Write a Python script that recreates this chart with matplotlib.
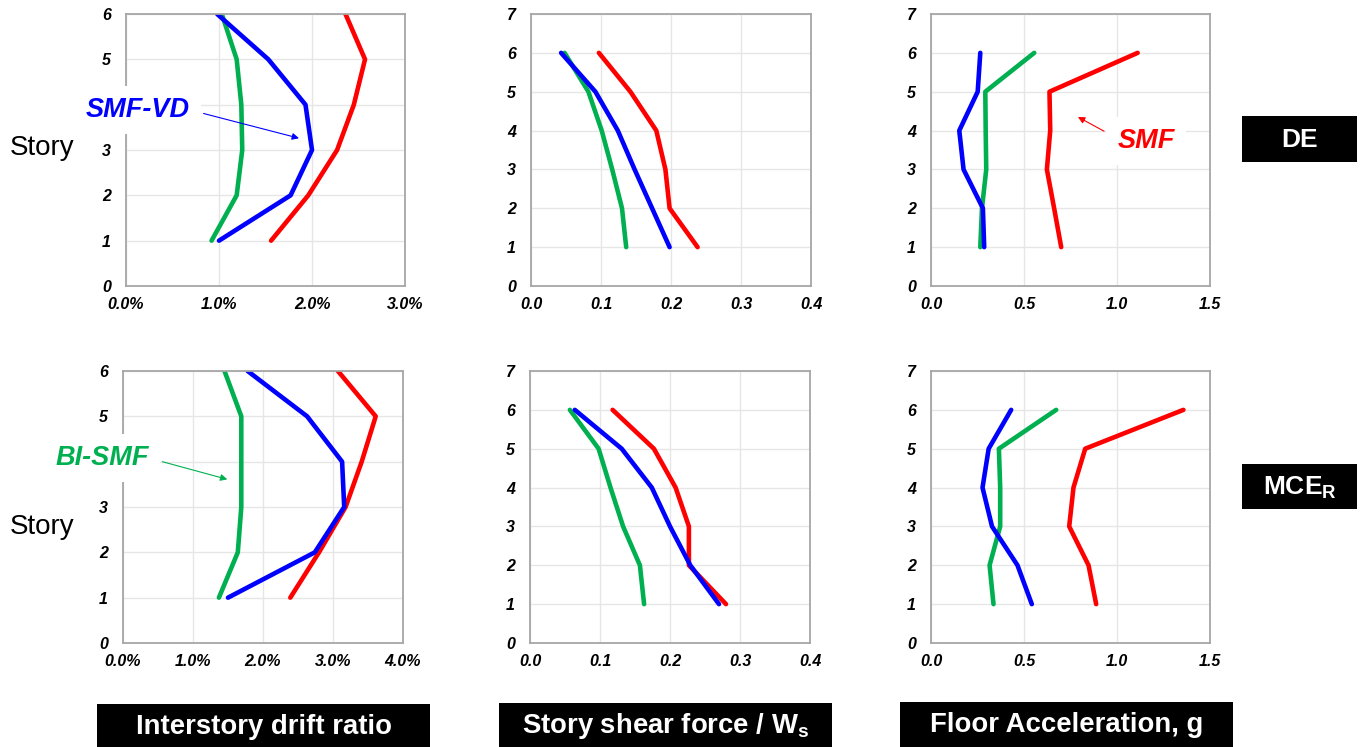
import matplotlib
matplotlib.use("Agg")
import matplotlib.pyplot as plt
from matplotlib.patches import Rectangle
from matplotlib.ticker import FixedLocator, FuncFormatter

W, H = 1364, 747

stories = [1, 2, 3, 4, 5, 6]

# Interstory drift ratio (%)
drift_de_smf = [1.56, 1.96, 2.27, 2.45, 2.57, 2.36]
drift_de_vd = [1.00, 1.77, 2.00, 1.93, 1.53, 0.98]
drift_de_bi = [0.92, 1.19, 1.25, 1.24, 1.19, 1.03]
drift_mce_smf = [2.39, 2.80, 3.18, 3.41, 3.61, 3.07]
drift_mce_vd = [1.50, 2.74, 3.16, 3.13, 2.63, 1.78]
drift_mce_bi = [1.37, 1.64, 1.69, 1.69, 1.69, 1.45]

# Story shear force / Ws
shear_de_smf = [0.238, 0.198, 0.192, 0.179, 0.142, 0.097]
shear_de_vd = [0.198, 0.173, 0.148, 0.124, 0.092, 0.043]
shear_de_bi = [0.136, 0.130, 0.116, 0.101, 0.082, 0.048]
shear_mce_smf = [0.280, 0.227, 0.227, 0.208, 0.177, 0.118]
shear_mce_vd = [0.270, 0.229, 0.200, 0.174, 0.131, 0.064]
shear_mce_bi = [0.163, 0.157, 0.133, 0.115, 0.098, 0.057]

# Floor acceleration (g)
acc_de_smf = [0.700, 0.662, 0.623, 0.641, 0.637, 1.111]
acc_de_vd = [0.286, 0.279, 0.175, 0.152, 0.251, 0.265]
acc_de_bi = [0.265, 0.274, 0.297, 0.294, 0.292, 0.555]
acc_mce_smf = [0.888, 0.847, 0.743, 0.766, 0.829, 1.357]
acc_mce_vd = [0.542, 0.465, 0.328, 0.277, 0.310, 0.431]
acc_mce_bi = [0.336, 0.315, 0.372, 0.372, 0.365, 0.673]

drift_ticks_de = [0, 1, 2, 3]
drift_ticks_mce = [0, 1, 2, 3, 4]
shear_ticks = [0.0, 0.1, 0.2, 0.3, 0.4]
acc_ticks = [0.0, 0.5, 1.0, 1.5]

row_labels = ["DE", "MCE$_\\mathregular{R}$"]
col_labels = ["Interstory drift ratio",
              "Story shear force / W$_\\mathregular{s}$",
              "Floor Acceleration, g"]

RED, BLUE, GREEN = "#FF0000", "#0000FF", "#00B050"
SPINE, GRID = "#A6A6A6", "#E6E6E6"
FONT = "Liberation Sans"

plt.rcParams["font.family"] = [FONT, "DejaVu Sans"]
plt.rcParams["mathtext.fontset"] = "custom"
plt.rcParams["mathtext.rm"] = "Liberation Sans:bold"

fig = plt.figure(figsize=(W / 100, H / 100), dpi=100)


def rect(l, t, r, b):
    return [l / W, 1 - b / H, (r - l) / W, (b - t) / H]


def panel(box, smf, vd, bi, xticks, ymax, fmt, hidden_story=None):
    ax = fig.add_axes(rect(*box))
    ax.plot(bi, stories, color=GREEN, lw=3.3, solid_capstyle="round")
    ax.plot(smf, stories, color=RED, lw=3.3, solid_capstyle="round")
    ax.plot(vd, stories, color=BLUE, lw=3.3, solid_capstyle="round")
    ax.set_xlim(xticks[0], xticks[-1])
    ax.set_ylim(0, ymax)
    ax.xaxis.set_major_locator(FixedLocator(xticks))
    ax.yaxis.set_major_locator(FixedLocator(list(range(0, ymax + 1))))
    ax.xaxis.set_major_formatter(FuncFormatter(fmt))
    # the callout box sits over one story label on the drift panels
    ax.yaxis.set_major_formatter(FuncFormatter(
        lambda v, p: "" if int(v) == hidden_story else f"{int(v)}"))
    ax.grid(True, color=GRID, lw=1.0)
    ax.set_axisbelow(True)
    for s in ax.spines.values():
        s.set_color(SPINE)
        s.set_linewidth(1.3)
    ax.tick_params(length=0, pad=8)
    ax.tick_params(axis="y", pad=11)
    for lab in ax.get_xticklabels() + ax.get_yticklabels():
        lab.set_fontweight("bold")
        lab.set_fontstyle("italic")
        lab.set_fontsize(11.5)
    return ax


pct = lambda v, p: f"{v:.1f}%"
one = lambda v, p: f"{v:.1f}"

ax_tl = panel((126, 14, 405, 286), drift_de_smf, drift_de_vd, drift_de_bi,
              drift_ticks_de, 6, pct, hidden_story=4)
ax_tm = panel((531, 14, 811, 286), shear_de_smf, shear_de_vd, shear_de_bi,
              shear_ticks, 7, one)
ax_tr = panel((931, 14, 1210, 286), acc_de_smf, acc_de_vd, acc_de_bi,
              acc_ticks, 7, one)
ax_bl = panel((123, 371, 403, 643), drift_mce_smf, drift_mce_vd, drift_mce_bi,
              drift_ticks_mce, 6, pct, hidden_story=4)
ax_bm = panel((530, 371, 810, 643), shear_mce_smf, shear_mce_vd, shear_mce_bi,
              shear_ticks, 7, one)
ax_br = panel((931, 371, 1210, 643), acc_mce_smf, acc_mce_vd, acc_mce_bi,
              acc_ticks, 7, one)


def fpx(x, y):
    return (x / W, 1 - y / H)


def callout(ax, text, color, xy, text_px, relpos, zorder=10):
    ax.annotate(text, xy=xy, xycoords="data",
                xytext=fpx(*text_px), textcoords="figure fraction",
                ha="center", va="center", fontsize=19.5, fontweight="bold",
                fontstyle="italic", color=color, zorder=zorder,
                bbox=dict(boxstyle="square,pad=0.4", fc="white", ec="none"),
                arrowprops=dict(arrowstyle="-|>", color=color, lw=0.8,
                                mutation_scale=10, shrinkA=2, shrinkB=0,
                                relpos=relpos),
                annotation_clip=False)


callout(ax_tl, "SMF-VD", BLUE, (1.86, 3.26), (138, 110), (1.0, 0.5))
callout(ax_tr, "SMF", RED, (0.79, 4.35), (1146, 141), (0.0, 0.6))
callout(ax_bl, "BI-SMF", GREEN, (1.49, 3.61), (102, 458), (1.0, 0.5))

# Row axis labels
for y in (148, 527):
    fig.text(*fpx(42, y), "Story", ha="center", va="center", fontsize=20,
             color="black")


def black_box(l, t, r, b, text, size):
    fig.add_artist(Rectangle(fpx(l, b), (r - l) / W, (b - t) / H,
                             transform=fig.transFigure, fc="black", ec="none"))
    fig.text(*fpx((l + r) / 2, (t + b) / 2 + 1), text, ha="center",
             va="center", fontsize=size, fontweight="bold", color="white")


black_box(1242, 116, 1357, 162, row_labels[0], 19)
black_box(1242, 464, 1357, 509, row_labels[1], 19)
black_box(97, 704, 430, 747, col_labels[0], 19.8)
black_box(499, 703, 832, 747, col_labels[1], 19.8)
black_box(900, 702, 1233, 747, col_labels[2], 19.8)

fig.savefig("out.png", dpi=100, facecolor="white")
